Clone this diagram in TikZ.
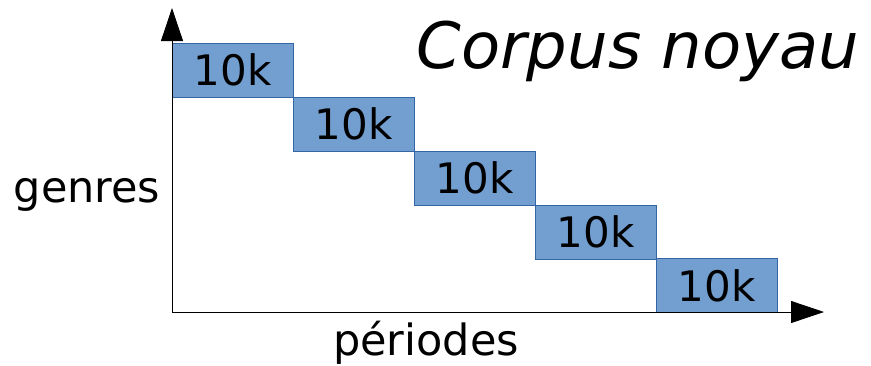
\documentclass[tikz,border=0pt]{standalone}
\usepackage{fontspec}
\setmainfont{DejaVu Sans}
\usetikzlibrary{arrows.meta}
\definecolor{boxfill}{HTML}{729FCF}
\definecolor{boxline}{HTML}{3465A4}
\begin{document}
\begin{tikzpicture}[x=1pt,y=-1pt,
  blk/.style={draw=boxline,line width=0.8pt,fill=boxfill,minimum width=121pt,minimum height=54pt,inner sep=0pt,font=\fontsize{42}{42}\selectfont},
  lbl/.style={inner sep=0pt,font=\fontsize{43}{43}\selectfont},
  axis/.style={line width=0.8pt,-{Triangle[length=33pt,width=22pt]}}]
\useasboundingbox (0,0) rectangle (871,365);
\coordinate (o) at (172,312);
\coordinate (ytop) at (172,8);
\coordinate (xend) at (824,312);
\node[blk] (b1) at (232.5,70) {10k};
\node[blk] (b2) at (353.5,124) {10k};
\node[blk] (b3) at (474.5,178) {10k};
\node[blk] (b4) at (595.5,232) {10k};
\node[blk] (b5) at (716.5,285.5) {10k};
\draw[axis] (o) -- (ytop);
\draw[axis] (o) -- (xend);
\node[lbl] (g) at (87,195) {genres};
\node[lbl] (p) at (426,343) {périodes};
\node[inner sep=0pt,font=\fontsize{64}{64}\selectfont\itshape] (t) at (638,51) {Corpus noyau};
\end{tikzpicture}
\end{document}
